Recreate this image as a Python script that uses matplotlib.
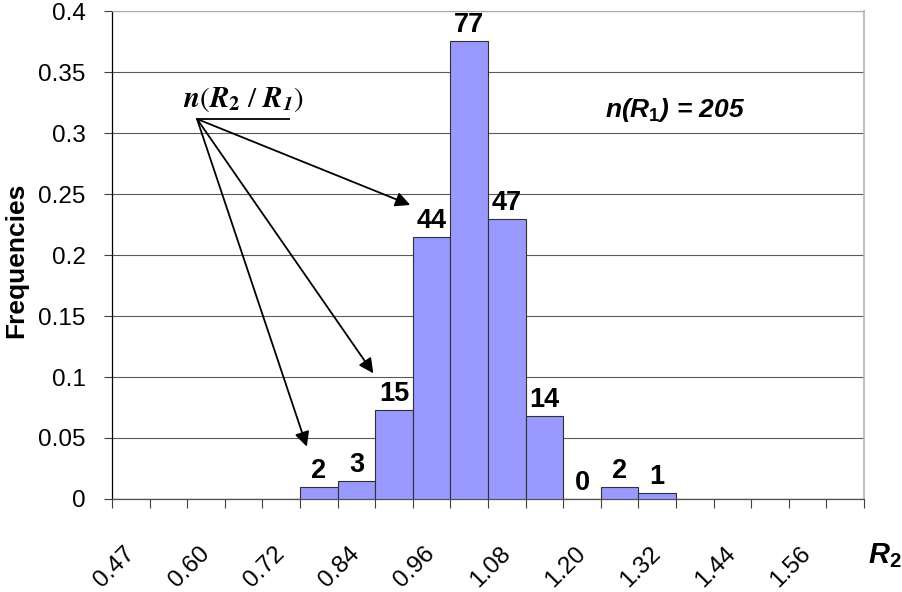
import numpy as np
import matplotlib
matplotlib.use("Agg")
from matplotlib import pyplot as plt

plt.rcParams['font.family'] = ['Liberation Sans', 'DejaVu Sans']
plt.rcParams['mathtext.fontset'] = 'custom'
plt.rcParams['mathtext.rm'] = 'Liberation Sans:bold'
plt.rcParams['mathtext.it'] = 'Liberation Sans:italic:bold'
plt.rcParams['mathtext.bf'] = 'Liberation Sans:bold'

# R2 classes (labels shown on every other class) and counts per class
class_labels = ['0.47', '0.60', '0.72', '0.84', '0.96',
                '1.08', '1.20', '1.32', '1.44', '1.56']
counts = [0, 0, 0, 0, 0, 2, 3, 15, 44, 77, 47, 14, 0, 2, 1, 0, 0, 0, 0, 0]
n_total = 205

counts = np.array(counts)
freq = counts / n_total
pos = np.arange(len(counts))

fig = plt.figure(figsize=(9.02, 5.92), dpi=100)
ax = fig.add_axes([0.1242, 0.1571, 0.8337, 0.8243])

ax.bar(pos, freq, width=1.0, color='#9999FF', edgecolor='#303030',
       linewidth=0.8, zorder=3)

# count above each bar of the occupied range
nz = np.nonzero(counts)[0]
for i in range(nz[0], nz[-1] + 1):
    ax.annotate(str(counts[i]), (pos[i], freq[i]), xytext=(0, 6.5),
                textcoords='offset points', ha='center', va='baseline',
                fontsize=19.5, fontweight='bold', zorder=5)

ax.set_xlim(-0.5, len(counts) - 0.5)
ax.set_ylim(0, 0.4)

# y axis
yt = np.arange(0, 0.401, 0.05)
ax.set_yticks(yt)
ax.set_yticklabels(['{:g}'.format(round(v, 2)) for v in yt], fontsize=17.5)
ax.tick_params(axis='y', direction='out', length=6, width=0.8,
               color='#404040', pad=13)
ax.grid(axis='y', color='#5a5a5a', linewidth=0.8, zorder=1)
ax.set_axisbelow(True)

# x axis: ticks between classes, labels on every other class
ax.set_xticks(np.arange(-0.5, len(counts), 1.0))
ax.set_xticklabels([])
ax.tick_params(axis='x', which='major', direction='out', length=6.5,
               width=0.8, color='#404040')
ax.set_xticks(pos[::2], minor=True)
ax.set_xticklabels(class_labels, minor=True, fontsize=17.5)
ax.tick_params(axis='x', which='minor', length=0, pad=37)
for lab in ax.get_xticklabels(minor=True):
    lab.set_rotation(45)
    lab.set_ha('right')
    lab.set_va('center')
    lab.set_rotation_mode('anchor')

ax.spines['left'].set_color('black')
ax.spines['left'].set_linewidth(0.9)
ax.spines['bottom'].set_color('#505050')
ax.spines['bottom'].set_linewidth(0.9)
ax.spines['top'].set_color('#a8a8a8')
ax.spines['right'].set_color('#b4b4b4')
ax.spines['right'].set_linewidth(1.2)

ax.set_ylabel('Frequencies', fontsize=19, fontweight='bold')
ax.yaxis.set_label_coords(-0.112, 0.49)
ax.set_xlabel(r'$R_2$', fontsize=21, ha='left', va='center')
ax.xaxis.set_label_coords(1.005, -0.115)

# labels with arrows pointing at the bar counts
origin = (1.76, 0.3115)
ax.text(3.0, 0.3213,
        r'$\mathbfit{n}(\mathbfit{R}_\mathbf{2}\ /\ \mathbfit{R}_\mathbfit{1})$',
        fontsize=21, ha='center', va='baseline', math_fontfamily='stix', zorder=6)
ax.plot([origin[0], 4.23], [0.3115, 0.3115], color='black', lw=1.3, zorder=6,
        solid_capstyle='butt')
for tip in [(7.43, 0.241), (6.45, 0.103), (4.68, 0.0429)]:
    ax.annotate('', xy=tip, xytext=origin,
                arrowprops=dict(arrowstyle='-|>', color='black', lw=1.3,
                                mutation_scale=22, shrinkA=0, shrinkB=0),
                zorder=6)

ax.text(14.47, 0.313, r'$n$($R_1$) = 205', fontsize=19, fontweight='bold',
        fontstyle='italic', ha='center', va='baseline')

fig.savefig('out.png', dpi=100)
